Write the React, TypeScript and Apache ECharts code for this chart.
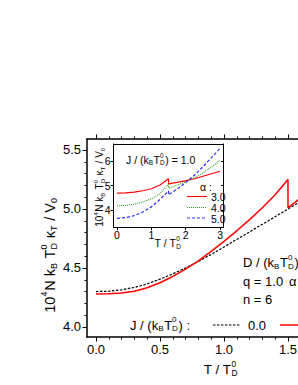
import React, { useEffect, useRef } from "react";
import * as echarts from "echarts";

const FONT = '"Liberation Sans", Arial, Helvetica, sans-serif';

// ---- main plot data ----
const mainT = [0, 0.1, 0.2, 0.3, 0.4, 0.5, 0.6, 0.7, 0.8, 0.9, 1.0, 1.1, 1.2, 1.3, 1.4, 1.5, 1.6, 1.7, 1.8, 1.9, 2.0];
const mainJ0 = [4.3, 4.303, 4.315, 4.335, 4.365, 4.405, 4.45, 4.5, 4.555, 4.615, 4.678, 4.742, 4.806, 4.87, 4.935, 5.0, 5.064, 5.128, 5.192, 5.256, 5.32];
const mainJ1T = [0, 0.1, 0.2, 0.3, 0.4, 0.5, 0.6, 0.7, 0.8, 0.9, 1.0, 1.1, 1.2, 1.3, 1.4, 1.5, 1.5, 1.6, 1.7, 1.8, 1.9, 2.0];
const mainJ1 = [4.28, 4.281, 4.288, 4.303, 4.333, 4.375, 4.428, 4.49, 4.56, 4.64, 4.725, 4.815, 4.91, 5.01, 5.12, 5.25, 5.01, 5.095, 5.18, 5.265, 5.35, 5.435];
const mainXMajor = [0, 0.5, 1.0, 1.5, 2.0];
const mainXLabels = [0, 0.5, 1.0, 1.5];
const mainXMinor = [0.1, 0.2, 0.3, 0.4, 0.6, 0.7, 0.8, 0.9, 1.1, 1.2, 1.3, 1.4, 1.6, 1.7, 1.8, 1.9];
const mainYMajor = [4.0, 4.5, 5.0, 5.5];
const mainYMinor = [4.1, 4.2, 4.3, 4.4, 4.6, 4.7, 4.8, 4.9, 5.1, 5.2, 5.3, 5.4];
const legendJ = ["0.0"];

// ---- inset data (J = 1.0) ----
const insetT = [0, 0.25, 0.5, 0.75, 1.0, 1.25, 1.5, 1.5, 1.75, 2.0, 2.25, 2.5, 2.75, 3.0];
const insetA3 = [4.69, 4.7, 4.73, 4.79, 4.87, 5.02, 5.28, 5.07, 5.13, 5.2, 5.28, 5.38, 5.48, 5.58];
const insetA4 = [4.17, 4.19, 4.24, 4.33, 4.46, 4.67, 5.05, 4.9, 5.02, 5.15, 5.32, 5.52, 5.76, 6.02];
const insetA5 = [3.66, 3.69, 3.77, 3.92, 4.13, 4.43, 4.78, 4.62, 4.86, 5.12, 5.42, 5.77, 6.14, 6.52];
const insetXMajor = [0, 1, 2, 3];
const insetYMajor = [4, 5, 6];
const legendAlpha = ["3.0", "4.0", "5.0"];

const RED = "#ff0000";
const GREEN = "#2e9a2e";
const BLUE = "#2d2dff";

type Tok = string | { sup?: string; sub?: string };

let measureCtx: CanvasRenderingContext2D | null = null;
function measure(text: string, size: number): number {
  if (!measureCtx) {
    const c = document.createElement("canvas");
    measureCtx = c.getContext("2d");
  }
  if (!measureCtx) return text.length * size * 0.55;
  measureCtx.font = `${size}px "Liberation Sans", Arial, sans-serif`;
  return measureCtx.measureText(text).width;
}

function txt(x: number, y: number, text: string, size: number, color: string, rotation: number) {
  return {
    type: "text",
    x,
    y,
    rotation,
    silent: true,
    style: {
      text,
      fontSize: size,
      fontFamily: FONT,
      fill: color,
      textAlign: "left",
      textVerticalAlign: "middle",
    },
  };
}

function mathText(
  tokens: Tok[],
  size: number,
  x: number,
  y: number,
  align: "left" | "center" | "right" = "left",
  vertical = false,
  color = "#000"
): any[] {
  const items: { lx: number; ly: number; t: string; s: number }[] = [];
  let cx = 0;
  const small = size * 0.62;
  for (const tok of tokens) {
    if (typeof tok === "string") {
      items.push({ lx: cx, ly: 0, t: tok, s: size });
      cx += measure(tok, size);
    } else {
      let w = 0;
      if (tok.sup) {
        items.push({ lx: cx, ly: -size * 0.4, t: tok.sup, s: small });
        w = Math.max(w, measure(tok.sup, small));
      }
      if (tok.sub) {
        items.push({ lx: cx, ly: size * 0.3, t: tok.sub, s: small });
        w = Math.max(w, measure(tok.sub, small));
      }
      cx += w + size * 0.05;
    }
  }
  const off = align === "left" ? 0 : align === "center" ? -cx / 2 : -cx;
  return items.map((it) => {
    const lx = it.lx + off;
    if (!vertical) return txt(x + lx, y + it.ly, it.t, it.s, color, 0);
    return txt(x + it.ly, y - lx, it.t, it.s, color, Math.PI / 2);
  });
}

const zip = (xs: number[], ys: number[]) => xs.map((x, i) => [x, ys[i]]);

function hline(x1: number, x2: number, y: number, color: string, width: number, dash?: number[]) {
  return {
    type: "line",
    silent: true,
    shape: { x1, y1: y, x2, y2: y },
    style: { stroke: color, lineWidth: width, lineDash: dash },
  };
}

function tickAxis(extra: any, values: number[], length: number, inside: boolean, lineShow: boolean, lw: number) {
  return {
    type: "value",
    splitLine: { show: false },
    axisLine: { show: lineShow, onZero: false, lineStyle: { color: "#000", width: lw } },
    axisTick: { show: values.length > 0, inside, length, customValues: values, lineStyle: { color: "#000", width: 1 } },
    axisLabel: { show: false },
    ...extra,
  };
}

export default function App() {
  const ref = useRef<HTMLDivElement>(null);
  useEffect(() => {
    if (!ref.current) return;
    const chart = echarts.init(ref.current, undefined, { renderer: "svg" });
    const fmt = (v: number) => v.toFixed(1);
    const fmt0 = (v: number) => String(Math.round(v));
    const mainX = { gridIndex: 0, min: -0.07, max: 2.0 };
    const mainY = { gridIndex: 0, min: 3.915, max: 5.593 };
    const insX = { gridIndex: 1, min: -0.1, max: 3.1 };
    const insY = { gridIndex: 1, min: 3.3, max: 6.7 };

    const valueLabel = (values: number[], f: (v: number) => string, size: number, margin: number) => ({
      show: true,
      customValues: values,
      formatter: f,
      fontSize: size,
      fontFamily: FONT,
      color: "#000",
      margin,
    });

    const option: any = {
      animation: false,
      backgroundColor: "#fff",
      grid: [
        { left: 87, top: 139, width: 265, height: 198 },
        { left: 113.6, top: 143.9, width: 109.9, height: 83.3 },
      ],
      xAxis: [
        { ...tickAxis({ ...mainX, position: "bottom" }, mainXMajor, 4.5, false, true, 1.5), axisLabel: valueLabel(mainXLabels, fmt, 13, 6) },
        tickAxis({ ...mainX, position: "bottom" }, mainXMinor, 2.5, false, false, 1.5),
        tickAxis({ ...mainX, position: "top" }, mainXMajor, 4.5, false, true, 1.5),
        tickAxis({ ...mainX, position: "top" }, mainXMinor, 2.5, false, false, 1.5),
        { ...tickAxis({ ...insX, position: "bottom" }, insetXMajor, 3, false, true, 1), axisLabel: valueLabel(insetXMajor, fmt0, 10.5, 2) },
        tickAxis({ ...insX, position: "top" }, [], 3, true, true, 1),
      ],
      yAxis: [
        { ...tickAxis({ ...mainY, position: "left" }, mainYMajor, 4.5, false, true, 1.5), axisLabel: valueLabel(mainYMajor, fmt, 13, 6) },
        tickAxis({ ...mainY, position: "left" }, mainYMinor, 2.5, false, false, 1.5),
        { ...tickAxis({ ...insY, position: "left" }, insetYMajor, 3, false, true, 1), axisLabel: valueLabel(insetYMajor, fmt0, 10.5, 3) },
        tickAxis({ ...insY, position: "right" }, insetYMajor, 2.5, true, true, 1),
      ],
      series: [
        { name: "J0", type: "line", xAxisIndex: 0, yAxisIndex: 0, data: zip(mainT, mainJ0), symbol: "none", lineStyle: { color: "#000", width: 1.2, type: [2.5, 1.5] } },
        { name: "J1", type: "line", xAxisIndex: 0, yAxisIndex: 0, data: zip(mainJ1T, mainJ1), symbol: "none", lineStyle: { color: RED, width: 1.5 } },
        { name: "a3", type: "line", xAxisIndex: 4, yAxisIndex: 2, data: zip(insetT, insetA3), symbol: "none", lineStyle: { color: RED, width: 1.1 } },
        { name: "a4", type: "line", xAxisIndex: 4, yAxisIndex: 2, data: zip(insetT, insetA4), symbol: "none", lineStyle: { color: GREEN, width: 1.1, type: [1, 1] } },
        { name: "a5", type: "line", xAxisIndex: 4, yAxisIndex: 2, data: zip(insetT, insetA5), symbol: "none", lineStyle: { color: BLUE, width: 1.2, type: [3, 2] } },
      ],
      graphic: [
        ...mathText(["10", { sup: "4" }, "N k", { sub: "B" }, " T", { sup: "0", sub: "D" }, " κ", { sub: "T" }, " / V", { sub: "0" }], 14.5, 50, 255, "center", true),
        ...mathText(["T / T", { sup: "0", sub: "D" }], 13.5, 221, 369, "center"),
        ...mathText(["10", { sup: "4" }, "N k", { sub: "B" }, " T", { sup: "0", sub: "D" }, " κ", { sub: "T" }, " / V", { sub: "0" }], 10, 99.5, 187, "center", true),
        ...mathText(["T / T", { sup: "0", sub: "D" }], 10.5, 168, 243, "center"),
        ...mathText(["J / (k", { sub: "B" }, "T", { sup: "0", sub: "D" }, ") = 1.0"], 10.5, 126, 159.5, "left"),
        ...mathText(["α :"], 10.5, 200, 187, "left"),
        hline(187, 207, 196.5, RED, 1.1),
        ...mathText([legendAlpha[0]], 10.5, 211, 197, "left"),
        hline(187, 207, 207.5, GREEN, 1.1, [1, 1]),
        ...mathText([legendAlpha[1]], 10.5, 211, 208, "left"),
        hline(187, 207, 218, BLUE, 1.2, [3, 2]),
        ...mathText([legendAlpha[2]], 10.5, 211, 218.5, "left"),
        ...mathText(["D / (k", { sub: "B" }, "T", { sup: "0", sub: "D" }, ")"], 13, 243, 262.5, "left"),
        ...mathText(["q = 1.0"], 13, 243, 281, "left"),
        ...mathText(["α"], 13, 289, 281, "left"),
        ...mathText(["n = 6"], 13, 243, 299, "left"),
        ...mathText(["J / (k", { sub: "B" }, "T", { sup: "0", sub: "D" }, ") :"], 13, 130, 325, "left"),
        hline(213, 240, 325, "#000", 1.2, [2.5, 1.5]),
        ...mathText([legendJ[0]], 13, 248, 325, "left"),
        hline(280, 330, 325, RED, 1.5),
      ],
    };
    chart.setOption(option);
    return () => chart.dispose();
  }, []);

  return (
    <div style={{ position: "fixed", left: 0, top: 0, width: 298, height: 385, overflow: "hidden", background: "#fff" }}>
      <div ref={ref} style={{ width: 420, height: 385 }} />
    </div>
  );
}
